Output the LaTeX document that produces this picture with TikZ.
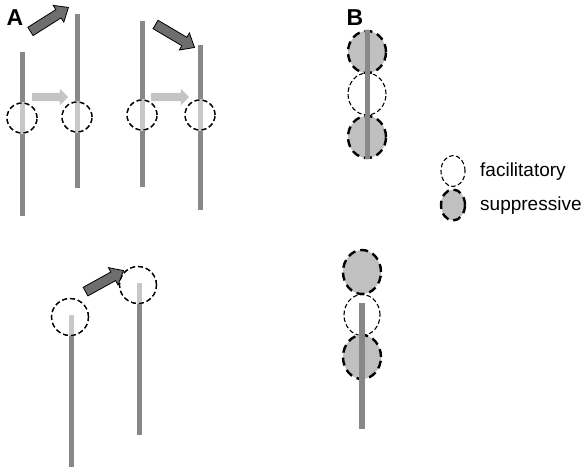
\documentclass[tikz,border=0pt]{standalone}
\usepackage{fontspec}
\setmainfont{Liberation Sans}
\usetikzlibrary{shapes.geometric,shapes.arrows,calc}
\definecolor{stem}{HTML}{888888}
\definecolor{lite}{HTML}{C8C8C8}
\definecolor{darkarrow}{HTML}{6E6E6E}
\definecolor{supfill}{HTML}{C0C0C0}
\definecolor{litearrow}{HTML}{C4C4C4}
\begin{document}
\begin{tikzpicture}[x=1pt,y=-1pt,
  stemline/.style={draw=stem,line width=5pt},
  liteseg/.style={draw=lite,line width=5pt},
  fieldA/.style={circle,draw=black,line width=1.2pt,dash pattern=on 5pt off 3pt,inner sep=0pt},
  facil/.style={ellipse,draw=black,line width=1.1pt,dash pattern=on 4.5pt off 2.5pt,inner sep=0pt},
  suppr/.style={ellipse,draw=black,fill=supfill,line width=2.4pt,dash pattern=on 8pt off 5pt,inner sep=0pt},
  blk/.style={single arrow,draw=black,fill=darkarrow,line width=0.8pt,inner sep=4.5pt,
    single arrow head extend=5pt,single arrow tip angle=80,single arrow head indent=0pt},
  lgt/.style={single arrow,draw=none,fill=litearrow,inner sep=4pt,
    single arrow head extend=4pt,single arrow tip angle=90,single arrow head indent=0pt},
  panel/.style={font=\fontsize{23}{23}\selectfont\bfseries},
  legend/.style={font=\fontsize{19}{19}\selectfont,anchor=west,inner sep=0pt}
]
\useasboundingbox (0,0) rectangle (585,468);
\newcommand\blockarrow[3]{%
  \path let \p1=($(#3)-(#2)$), \n1={atan2(\y1,\x1)}, \n2={veclen(\x1,\y1)} in
    node[#1,rotate=\n1,minimum height=\n2] at ($(#2)!0.5!(#3)$) {};}

% labels
\node[panel] (labA) at (15,18) {A};
\node[panel] (labB) at (355,18) {B};

% ---- panel A, top
\coordinate (l1t) at (22,52);  \coordinate (l1b) at (22,216);
\coordinate (l2t) at (77,14);  \coordinate (l2b) at (77,188);
\coordinate (l3t) at (142,21); \coordinate (l3b) at (142,187);
\coordinate (l4t) at (200,45); \coordinate (l4b) at (200,210);
\draw[stemline] (l1t) -- (l1b);
\draw[stemline] (l2t) -- (l2b);
\draw[stemline] (l3t) -- (l3b);
\draw[stemline] (l4t) -- (l4b);
\node[fieldA,minimum size=30pt] (c1) at (22,118) {};
\node[fieldA,minimum size=30pt] (c2) at (77,117) {};
\node[fieldA,minimum size=30pt] (c3) at (142,115) {};
\node[fieldA,minimum size=30pt] (c4) at (200,115) {};
\draw[liteseg] (c1.north) -- (c1.south);
\draw[liteseg] (c2.north) -- (c2.south);
\draw[liteseg] (c3.north) -- (c3.south);
\draw[liteseg] (c4.north) -- (c4.south);
\node[fieldA,minimum size=30pt] at (c1) {};
\node[fieldA,minimum size=30pt] at (c2) {};
\node[fieldA,minimum size=30pt] at (c3) {};
\node[fieldA,minimum size=30pt] at (c4) {};

\coordinate (a1s) at (28,33);  \coordinate (a1e) at (66,9);
\coordinate (a2s) at (153,23); \coordinate (a2e) at (192,46);
\coordinate (g1s) at (30,97);  \coordinate (g1e) at (66,97);
\coordinate (g2s) at (149,97); \coordinate (g2e) at (187,97);
\blockarrow{blk}{a1s}{a1e}
\blockarrow{blk}{a2s}{a2e}
\blockarrow{lgt}{g1s}{g1e}
\blockarrow{lgt}{g2s}{g2e}

% ---- panel A, bottom
\coordinate (l5t) at (71,315); \coordinate (l5b) at (71,467);
\coordinate (l6t) at (139,283); \coordinate (l6b) at (139,435);
\draw[stemline] (l5t) -- (l5b);
\draw[stemline] (l6t) -- (l6b);
\node[fieldA,minimum size=37pt] (c5) at (70,317) {};
\node[fieldA,minimum size=37pt] (c6) at (138,285) {};
\draw[liteseg] (l5t) -- (c5.south -| l5t);
\draw[liteseg] (l6t) -- (c6.south -| l6t);
\node[fieldA,minimum size=37pt] at (c5) {};
\node[fieldA,minimum size=37pt] at (c6) {};
\coordinate (a3s) at (83,293); \coordinate (a3e) at (121,272);
\blockarrow{blk}{a3s}{a3e}

% ---- panel B, top
\node[suppr,minimum width=38pt,minimum height=42pt] (e1) at (367,52) {};
\node[facil,minimum width=38pt,minimum height=42pt] (e2) at (367,94) {};
\node[suppr,minimum width=38pt,minimum height=42pt] (e3) at (367,137) {};
\draw[stemline] (e1.north) -- (e3.south);

% ---- panel B, bottom
\node[suppr,minimum width=38pt,minimum height=44pt] (e4) at (362,272) {};
\node[facil,minimum width=36pt,minimum height=41pt] (e5) at (362,315) {};
\node[suppr,minimum width=38pt,minimum height=44pt] (e6) at (362,357) {};
\coordinate (l7t) at (362,303); \coordinate (l7b) at (362,429);
\draw[stemline,line width=5.5pt] (l7t) -- (l7b);

% ---- legend
\node[facil,minimum width=24pt,minimum height=31pt] (lf) at (453,171) {};
\node[suppr,minimum width=24pt,minimum height=31pt] (ls) at (453,205) {};
\node[legend] (tf) at (480,172) {facilitatory};
\node[legend] (ts) at (480,206) {suppressive};
\end{tikzpicture}
\end{document}
